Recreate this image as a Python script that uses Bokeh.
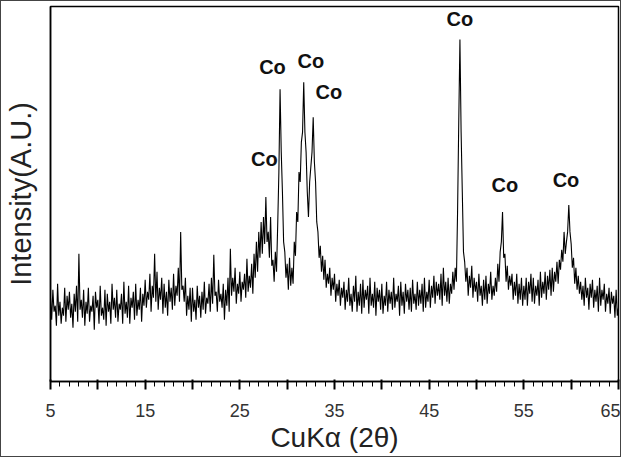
import numpy as np
from bokeh.plotting import figure
from bokeh.models import Range1d, FixedTicker, ColumnDataSource
from bokeh.core.properties import value
from bokeh.embed import file_html
from bokeh.resources import INLINE

# 2-theta sampling grid (degrees), 0.125 deg step from 5 to 65
two_theta = np.arange(5, 65.001, 0.125)

intensity = [
    84, 62, 92, 70, 76, 56, 98, 66,        # 5
    80, 58, 74, 66, 94, 60, 86, 72,        # 6
    90, 64, 78, 54, 88, 70, 96, 60,        # 7
    128, 72, 82, 64, 92, 56, 80, 68,       # 8
    94, 60, 76, 70, 86, 52, 90, 74,        # 9
    82, 58, 96, 66, 74, 62, 92, 56,        # 10
    88, 70, 80, 58, 98, 72, 84, 64,        # 11
    92, 60, 78, 72, 88, 58, 100, 68,       # 12
    80, 64, 96, 58, 84, 74, 90, 62,        # 13
    98, 66, 82, 72, 94, 60, 88, 76,        # 14
    102, 74, 90, 82, 108, 70, 96, 84,      # 15
    128, 80, 110, 72, 94, 82, 104, 68,     # 16
    98, 74, 90, 66, 102, 80, 94, 72,       # 17
    108, 76, 96, 86, 114, 80, 150, 92,     # 18
    96, 80, 104, 66, 86, 72, 94, 60,       # 19
    94, 70, 82, 62, 96, 74, 86, 64,        # 20
    90, 72, 100, 68, 84, 78, 98, 70,       # 21
    104, 78, 127, 86, 90, 70, 102, 80,     # 22
    88, 74, 98, 62, 92, 76, 104, 70,       # 23
    133, 86, 104, 90, 114, 78, 98, 88,     # 24
    110, 80, 100, 92, 108, 84, 123, 90,    # 25
    106, 94, 118, 88, 128, 104, 140, 110,  # 26
    150, 124, 160, 128, 165, 138, 185, 140,  # 27
    150, 124, 165, 116, 122, 100, 130, 110,  # 28
    157, 210, 293, 230, 190, 140, 130, 104,  # 29
    118, 92, 124, 96, 114, 98, 140, 126,     # 30
    170, 160, 210, 200, 240, 250, 300, 250,  # 31
    230, 190, 165, 200, 215, 230, 265, 220,  # 32
    200, 160, 150, 124, 136, 110, 126, 102,  # 33
    122, 94, 108, 98, 114, 86, 104, 92,    # 34
    108, 80, 98, 86, 102, 76, 94, 84,      # 35
    100, 72, 92, 80, 104, 76, 88, 70,      # 36
    96, 80, 106, 70, 90, 76, 98, 68,       # 37
    102, 74, 92, 82, 96, 68, 104, 76,      # 38
    88, 74, 100, 66, 94, 80, 92, 72,       # 39
    98, 68, 86, 76, 100, 70, 92, 78,       # 40
    90, 72, 104, 74, 88, 80, 96, 66,       # 41
    100, 76, 90, 68, 98, 80, 92, 72,       # 42
    94, 70, 102, 78, 88, 72, 100, 76,      # 43
    92, 78, 98, 70, 104, 74, 90, 80,       # 44
    102, 74, 96, 84, 106, 78, 100, 86,     # 45
    98, 82, 108, 76, 114, 86, 100, 80,     # 46
    104, 78, 98, 88, 110, 92, 114, 100,    # 47
    170, 260, 343, 250, 190, 130, 120, 100,  # 48
    114, 86, 106, 94, 116, 84, 104, 90,    # 49
    100, 80, 108, 86, 96, 76, 102, 82,     # 50
    106, 78, 98, 88, 110, 82, 96, 86,      # 51
    104, 90, 118, 100, 130, 140, 170, 124,  # 52
    128, 100, 116, 92, 106, 96, 108, 82,   # 53
    100, 86, 108, 78, 98, 82, 104, 76,     # 54
    96, 82, 104, 76, 100, 88, 108, 80,     # 55
    104, 78, 96, 86, 102, 76, 110, 84,     # 56
    100, 88, 110, 82, 106, 92, 112, 86,    # 57
    114, 90, 110, 100, 120, 98, 122, 112,  # 58
    132, 120, 150, 128, 140, 150, 177, 150,  # 59
    138, 114, 124, 98, 114, 92, 106, 88,   # 60
    100, 82, 96, 76, 104, 84, 94, 72,      # 61
    98, 84, 102, 74, 92, 80, 96, 70,       # 62
    104, 76, 92, 82, 98, 70, 88, 78,       # 63
    94, 68, 90, 78, 86, 64, 92, 66,        # 64
    74,                                    # 65
]

# Peak annotations
label_x = [27.6, 28.45, 32.5, 34.4, 48.25, 53.0, 59.45]
label_y = [223, 315, 321, 290, 363, 197, 202]
label_text = ["Co", "Co", "Co", "Co", "Co", "Co", "Co"]

# Axis ticks
major_ticks = [5, 10, 15, 20, 25, 30, 35, 40, 45, 50, 55, 60, 65]
minor_ticks = list(range(5, 66))
tick_labels = {5: "5", 10: "", 15: "15", 20: "", 25: "25", 30: "", 35: "35",
               40: "", 45: "45", 50: "", 55: "55", 60: "", 65: "65"}

assert len(intensity) == len(two_theta)

p = figure(width=621, height=457, output_backend="svg", toolbar_location=None,
           x_range=Range1d(5, 65), y_range=Range1d(0, 376),
           min_border_left=44, min_border_right=4, min_border_top=5,
           min_border_bottom=77)
p.styles = {"border": "1px solid #444"}

src = ColumnDataSource(dict(x=two_theta, y=intensity))
p.line("x", "y", source=src, line_color="black", line_width=1.1)

lsrc = ColumnDataSource(dict(x=label_x, y=label_y, t=label_text))
p.text("x", "y", text="t", source=lsrc, text_font=value("Liberation Sans"),
       text_font_style="bold", text_font_size="20px", text_align="center",
       text_baseline="middle", text_color="#111111")

p.xgrid.visible = False
p.ygrid.visible = False
p.outline_line_color = "black"
p.outline_line_width = 1.5
p.background_fill_color = "white"
p.border_fill_color = "white"

xa = p.xaxis[0]
xa.ticker = FixedTicker(ticks=major_ticks, minor_ticks=minor_ticks)
xa.major_label_overrides = tick_labels
xa.axis_line_color = "black"
xa.axis_line_width = 1.5
xa.major_tick_out = 8
xa.minor_tick_out = 5
xa.major_tick_line_color = "black"
xa.minor_tick_line_color = "black"
xa.major_tick_line_width = 2
xa.minor_tick_line_width = 1
xa.major_label_text_font = "Liberation Sans"
xa.major_label_text_font_size = "18px"
xa.major_label_text_color = "#333333"
xa.major_label_standoff = 14
xa.axis_label = "CuKα (2θ)"
xa.axis_label_text_font = "Liberation Sans"
xa.axis_label_text_font_size = "28px"
xa.axis_label_text_font_style = "normal"
xa.axis_label_text_color = "#222222"
xa.axis_label_standoff = 2

ya = p.yaxis[0]
ya.axis_line_color = "black"
ya.axis_line_width = 1.5
ya.major_tick_line_color = None
ya.minor_tick_line_color = None
ya.major_label_text_font_size = "0px"
ya.major_label_text_color = None
ya.axis_label = "Intensity(A.U.)"
ya.axis_label_text_font = "Liberation Sans"
ya.axis_label_text_font_size = "29px"
ya.axis_label_text_font_style = "normal"
ya.axis_label_text_color = "#222222"
ya.axis_label_standoff = 8

open("out.html", "w").write(file_html(p, INLINE))
